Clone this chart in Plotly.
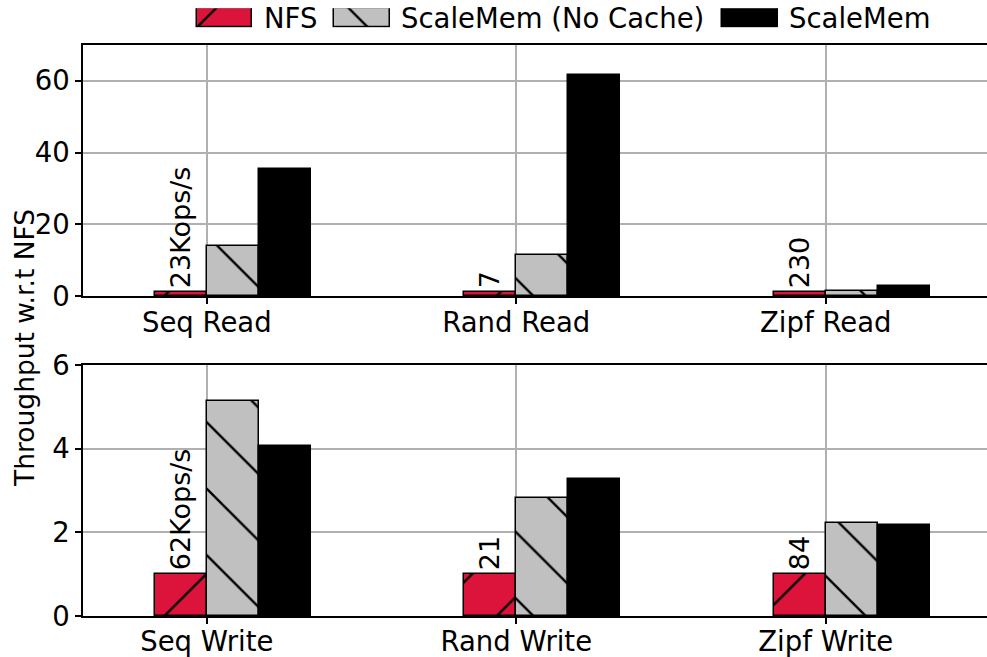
import plotly.graph_objects as go

# Workloads (one group per category) and throughput normalised to NFS
read_cats = ["Seq Read", "Rand Read", "Zipf Read"]
write_cats = ["Seq Write", "Rand Write", "Zipf Write"]

read_nfs = [1.0, 1.0, 1.0]
read_nocache = [13.9, 11.4, 1.5]
read_scalemem = [35.3, 61.6, 2.9]
read_nfs_labels = ["23Kops/s", "7", "230"]

write_nfs = [1.0, 1.0, 1.0]
write_nocache = [5.14, 2.82, 2.23]
write_scalemem = [4.07, 3.27, 2.17]
write_nfs_labels = ["62Kops/s", "21", "84"]

series_names = ["NFS", "ScaleMem (No Cache)", "ScaleMem"]

FONT = "DejaVu Sans"
FS = 27.5
W, H = 987, 657
ML, MB = 83, 41
BW = 0.168  # bar width in category units

styles = [
    dict(color="#DC143C", pattern=dict(shape="/", fgcolor="black", fgopacity=1,
                                       size=47, solidity=0.05)),
    dict(color="#C0C0C0", pattern=dict(shape="\\", fgcolor="black", fgopacity=1,
                                       size=47, solidity=0.05)),
    dict(color="black", pattern=dict(shape="")),
]
offsets = [-BW / 2, BW / 2, 3 * BW / 2]

fig = go.Figure()


def add_group(values_list, labels, xa, ya):
    for k, (vals, st) in enumerate(zip(values_list, styles)):
        fig.add_trace(go.Bar(
            x=[i + offsets[k] for i in range(len(vals))],
            y=vals,
            width=BW,
            marker=dict(color=st["color"], pattern=st["pattern"],
                        line=dict(color="black", width=1.5)),
            text=labels if k == 0 else None,
            textposition="outside" if k == 0 else "none",
            textangle=-90,
            constraintext="none",
            cliponaxis=False,
            textfont=dict(family=FONT, size=27, color="black"),
            showlegend=False,
            xaxis=xa, yaxis=ya,
        ))


add_group([read_nfs, read_nocache, read_scalemem], read_nfs_labels, "x", "y")
add_group([write_nfs, write_nocache, write_scalemem], write_nfs_labels, "x2", "y2")

# Legend drawn as patches on a pixel-scaled helper axis
leg_centers = [224.5, 362.0, 750.0]
leg_text_x = [261.7, 399.0, 787.0]
for k, st in enumerate(styles):
    fig.add_trace(go.Bar(
        x=[leg_centers[k]], y=[1], width=55.5,
        marker=dict(color=st["color"], pattern=st["pattern"],
                    line=dict(color="black", width=1.5)),
        showlegend=False, hoverinfo="skip",
        xaxis="x3", yaxis="y3",
    ))
    fig.add_annotation(x=leg_text_x[k], y=0.5, xref="x3", yref="y3",
                       text=series_names[k], showarrow=False,
                       xanchor="left", yanchor="middle",
                       font=dict(family=FONT, size=FS, color="black"))

plot_h = H - MB
top_dom = [(plot_h - 296) / plot_h, (plot_h - 45) / plot_h]
bot_dom = [0, (plot_h - 365) / plot_h]
x_range = [-0.4, 2.521]

axis_common = dict(
    showline=True, linecolor="black", linewidth=1.5,
    ticks="outside", ticklen=6, tickwidth=1.5, tickcolor="black",
    showgrid=True, gridcolor="#b0b0b0", gridwidth=1.5,
    tickfont=dict(family=FONT, size=FS, color="black"),
    zeroline=False, automargin=False,
)

fig.update_layout(
    width=W, height=H,
    margin=dict(l=ML, r=0, t=0, b=MB, autoexpand=False),
    paper_bgcolor="white", plot_bgcolor="white",
    barmode="overlay",
    bargap=0,
    font=dict(family=FONT, size=FS, color="black"),
    xaxis=dict(axis_common, domain=[0, 1], range=x_range, anchor="y",
               tickvals=[0, 1, 2], ticktext=read_cats, mirror=True,
               ticklabelstandoff=-5),
    yaxis=dict(axis_common, domain=top_dom, range=[0, 70], anchor="x",
               tickvals=[0, 20, 40, 60]),
    xaxis2=dict(axis_common, domain=[0, 1], range=x_range, anchor="y2",
                tickvals=[0, 1, 2], ticktext=write_cats, mirror=True,
                ticklabelstandoff=-6),
    yaxis2=dict(axis_common, domain=bot_dom, range=[0, 6], anchor="x2",
                tickvals=[0, 2, 4, 6]),
    xaxis3=dict(domain=[0, 1], range=[ML, W], anchor="y3", visible=False,
                fixedrange=True, automargin=False),
    yaxis3=dict(domain=[(plot_h - 27.7) / plot_h, (plot_h - 8.3) / plot_h],
                range=[0, 1], anchor="x3", visible=False, fixedrange=True,
                automargin=False),
)

fig.add_annotation(
    text="Throughput w.r.t NFS", textangle=-90, showarrow=False,
    xref="paper", yref="paper",
    x=(24 - ML) / (W - ML), y=(plot_h - 348) / plot_h,
    xanchor="center", yanchor="middle",
    font=dict(family=FONT, size=26.5, color="black"),
)

fig.write_html("out.html")
